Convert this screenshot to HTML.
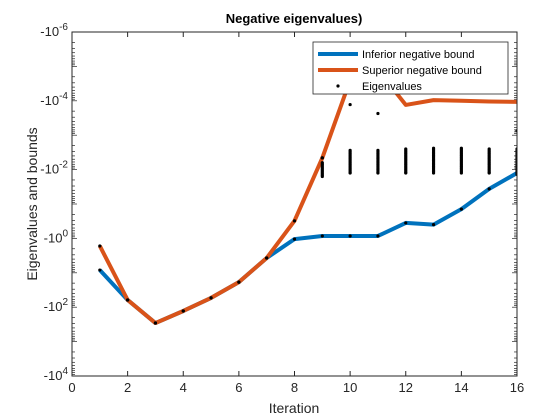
<!DOCTYPE html>
<html><head><meta charset="utf-8"><style>
body{margin:0;background:#fff;}
svg{display:block;font-family:"Liberation Sans",sans-serif;}
</style></head><body>
<svg id="c" width="560" height="420"></svg>
<script>
const iterations=[1,2,3,4,5,6,7,8,9,10,11,12,13,14,15,16];
const inferiorExp=[0.92,1.79,2.46,2.11,1.73,1.27,0.57,0.02,-0.07,-0.07,-0.07,-0.45,-0.40,-0.85,-1.44,-1.90];
const superiorExp=[0.22,1.79,2.46,2.11,1.73,1.27,0.57,-0.51,-2.34,-4.6,-4.9,-3.88,-4.02,-4.00,-3.98,-3.97];
const eigenIters=[9,10,11,12,13,14,15,16];
const eigenExp=[
 [-2.34,-2.2,-2.16,-2.12,-2.08,-2.04,-2.0,-1.96,-1.92,-1.88,-1.84,-1.80],
 [-3.89,-2.56,-2.52,-2.48,-2.44,-2.40,-2.36,-2.32,-2.28,-2.24,-2.20,-2.16,-2.12,-2.08,-2.04,-2.00,-1.96,-1.92,-1.90],
 [-3.63,-2.56,-2.52,-2.48,-2.44,-2.40,-2.36,-2.32,-2.28,-2.24,-2.20,-2.16,-2.12,-2.08,-2.04,-2.00,-1.96,-1.92,-1.90],
 [-2.60,-2.56,-2.52,-2.48,-2.44,-2.40,-2.36,-2.32,-2.28,-2.24,-2.20,-2.16,-2.12,-2.08,-2.04,-2.00,-1.96,-1.92,-1.90],
 [-2.62,-2.58,-2.54,-2.50,-2.46,-2.42,-2.38,-2.34,-2.30,-2.26,-2.22,-2.18,-2.14,-2.10,-2.06,-2.02,-1.98,-1.94,-1.90],
 [-2.62,-2.58,-2.54,-2.50,-2.46,-2.42,-2.38,-2.34,-2.30,-2.26,-2.22,-2.18,-2.14,-2.10,-2.06,-2.02,-1.98,-1.94,-1.90],
 [-2.60,-2.56,-2.52,-2.48,-2.44,-2.40,-2.36,-2.32,-2.28,-2.24,-2.20,-2.16,-2.12,-2.08,-2.04,-2.00,-1.96,-1.92,-1.90],
 [-3.13,-2.60,-2.56,-2.52,-2.48,-2.44,-2.40,-2.36,-2.32,-2.28,-2.24,-2.20,-2.16,-2.12,-2.08,-2.04,-2.00,-1.96,-1.92,-1.86]
];
const xTicks=[0,2,4,6,8,10,12,14,16];
const yTicks=[-6,-4,-2,0,2,4];
const L=72,R=517,T=32,B=376;
const sx=v=>L+(v/16)*(R-L);
const sy=e=>T+(e+6)/10*(B-T);
const svg=document.getElementById('c');const NS='http://www.w3.org/2000/svg';
function mk(t,a,p){const e=document.createElementNS(NS,t);for(const k in a)e.setAttribute(k,a[k]);(p||svg).appendChild(e);return e;}
const clip=mk('clipPath',{id:'cp'});mk('rect',{x:L,y:T,width:R-L,height:B-T},clip);
let bg=mk('rect',{x:L,y:T,width:R-L,height:B-T,fill:'#fff'});

xTicks.forEach(v=>{const x=sx(v);
 mk('line',{x1:x,x2:x,y1:B,y2:B-5,stroke:'#262626'});mk('line',{x1:x,x2:x,y1:T,y2:T+5,stroke:'#262626'});
 const t=mk('text',{x:x,y:B+16,'text-anchor':'middle','font-size':13,fill:'#262626'});t.textContent=v;
 });
for(let e=-6;e<4;e++){for(let m=1;m<10;m++){const y=sy(e+Math.log10(m));const len=m==1?5:3;
 mk('line',{x1:L,x2:L+len,y1:y,y2:y,stroke:'#262626','stroke-width':0.7});mk('line',{x1:R,x2:R-len,y1:y,y2:y,stroke:'#262626','stroke-width':0.7});}}
yTicks.forEach(e=>{const y=sy(e);
 const t=mk('text',{x:L-4,y:y+4,'text-anchor':'end','font-size':13,fill:'#262626'});
 
 const a=document.createElementNS(NS,'tspan');a.textContent='-10';t.appendChild(a);
 const b=document.createElementNS(NS,'tspan');b.setAttribute('dy','-6');b.setAttribute('font-size','10');b.textContent=e;t.appendChild(b);});
const g=mk('g',{'clip-path':'url(#cp)'});
function line(arr,col,name){const p=mk('polyline',{points:iterations.map((x,i)=>sx(x)+','+sy(arr[i])).join(' '),fill:'none',stroke:col,'stroke-width':4,'stroke-linejoin':'round'},g);
 }
line(inferiorExp,'#0072BD','inferior-bound-line');
line(superiorExp,'#D95319','superior-bound-line');
function dot(x,e){const c=mk('circle',{cx:sx(x),cy:sy(e),r:1.6,fill:'#000'},g);
 }
iterations.forEach((x,i)=>{dot(x,inferiorExp[i]);if(i<9)dot(x,superiorExp[i]);});
eigenIters.forEach((x,i)=>eigenExp[i].forEach(e=>dot(x,e)));
let fr=mk('rect',{x:L,y:T,width:R-L,height:B-T,fill:'none',stroke:'#262626','stroke-width':1});

const lg=mk('g',{});
mk('rect',{x:313,y:42,width:195,height:52,fill:'#fff',stroke:'#262626','stroke-width':0.8},lg);
[['Inferior negative bound','#0072BD',54],['Superior negative bound','#D95319',70]].forEach(([s,c,y])=>{
 mk('line',{x1:318,x2:358,y1:y,y2:y,stroke:c,'stroke-width':4},lg);
 const t=mk('text',{x:362,y:y+4,'font-size':11,fill:'#000'},lg);t.textContent=s;
 });
mk('circle',{cx:338,cy:86,r:1.6,fill:'#000'},lg);
const t3=mk('text',{x:362,y:90,'font-size':11,fill:'#000'},lg);t3.textContent='Eigenvalues';

const ti=mk('text',{x:294,y:23,'text-anchor':'middle','font-size':13,'font-weight':'bold',fill:'#000'});ti.textContent='Negative eigenvalues)';

const xl=mk('text',{x:294,y:413,'text-anchor':'middle','font-size':14,fill:'#262626'});xl.textContent='Iteration';

const yl=mk('text',{x:0,y:0,'text-anchor':'middle','font-size':14,fill:'#262626',transform:'translate(37,204) rotate(-90)'});yl.textContent='Eigenvalues and bounds';

</script>
</body></html>
